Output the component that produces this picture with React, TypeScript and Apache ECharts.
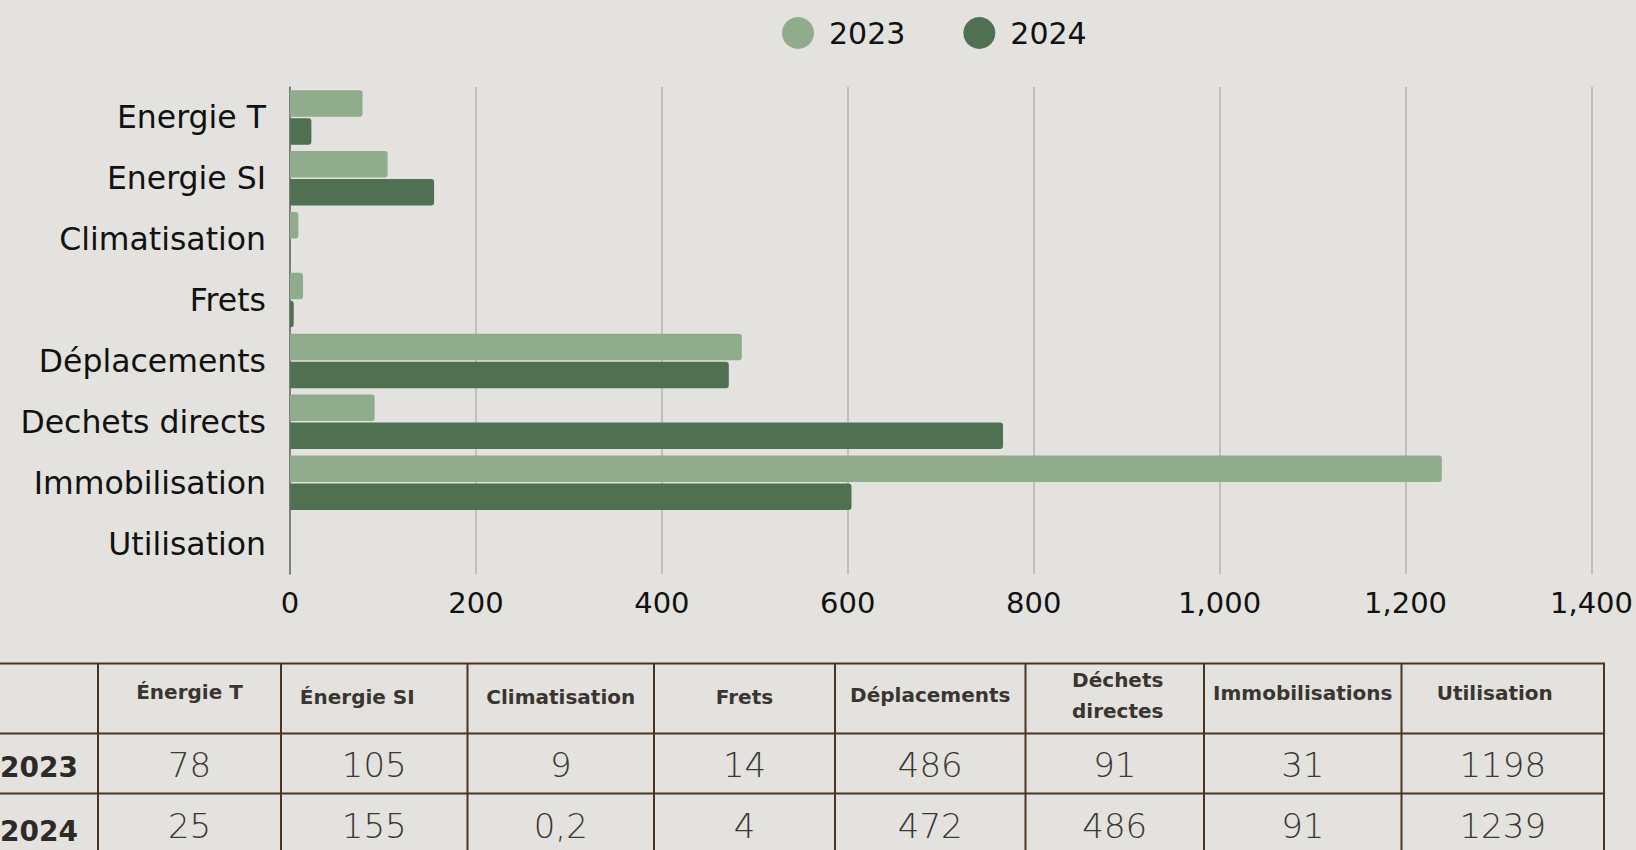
import React, { useEffect, useRef } from "react";
import * as echarts from "echarts";

const categories = [
  "Energie T",
  "Energie SI",
  "Climatisation",
  "Frets",
  "Déplacements",
  "Dechets directs",
  "Immobilisation",
  "Utilisation",
];
const seriesNames = ["2023", "2024"];
const values2023 = [78, 105, 9, 14, 486, 91, 1239, 0];
const values2024 = [23, 155, 0.2, 4, 472, 767, 604, 0];

const tableHeaders = [
  "Énergie T",
  "Énergie SI",
  "Climatisation",
  "Frets",
  "Déplacements",
  "Déchets\ndirectes",
  "Immobilisations",
  "Utilisation",
];
const tableRowLabels = ["2023", "2024"];
const tableRow2023 = ["78", "105", "9", "14", "486", "91", "31", "1198"];
const tableRow2024 = ["25", "155", "0,2", "4", "472", "486", "91", "1239"];

const BG = "#E3E2DE";
const C2023 = "#8FAC8C";
const C2024 = "#507052";
const FONT = "'DejaVu Sans', sans-serif";

export default function App() {
  const ref = useRef<HTMLDivElement>(null);

  useEffect(() => {
    document.body.style.margin = "0";
    document.body.style.background = BG;
    const chart = echarts.init(ref.current!, null, { renderer: "svg" });

    // table geometry
    const colX = [-60, 98, 281, 467.5, 654, 835, 1025.5, 1204, 1401.5, 1604];
    const rowY = [663.5, 733.5, 793.5, 856];
    const border = "#4A3520";
    const graphics: any[] = [];
    rowY.forEach((y) => {
      graphics.push({
        type: "line",
        shape: { x1: 0, y1: y, x2: colX[colX.length - 1] + 1, y2: y },
        style: { stroke: border, lineWidth: 2 },
      });
    });
    colX.slice(1).forEach((x) => {
      graphics.push({
        type: "line",
        shape: { x1: x, y1: rowY[0], x2: x, y2: rowY[rowY.length - 1] },
        style: { stroke: border, lineWidth: 2 },
      });
    });
    const headerY = [692, 697, 697, 697, 695, 695, 693, 693];
    const headerDx = [0, -17, 0, 0, 0, 3, 0, -8];
    tableHeaders.forEach((h, i) => {
      const cx = (colX[i + 1] + colX[i + 2]) / 2 + headerDx[i];
      graphics.push({
        type: "text",
        x: cx,
        y: headerY[i],
        style: {
          text: h,
          fill: "#3A3530",
          fontFamily: FONT,
          fontSize: 20,
          fontWeight: "bold",
          lineHeight: 31,
          align: "center",
          verticalAlign: "middle",
        },
      });
    });
    const rows = [tableRow2023, tableRow2024];
    const rowCenters = [765, 826];
    const labelCenters = [767, 831];
    rows.forEach((row, r) => {
      graphics.push({
        type: "text",
        x: 0,
        y: labelCenters[r],
        style: {
          text: tableRowLabels[r],
          fill: "#2E2A26",
          fontFamily: FONT,
          fontSize: 28,
          fontWeight: "bold",
          align: "left",
          verticalAlign: "middle",
        },
      });
      row.forEach((v, i) => {
        const cx = (colX[i + 1] + colX[i + 2]) / 2;
        graphics.push({
          type: "text",
          x: cx,
          y: rowCenters[r],
          style: {
            text: v,
            fill: "#3C3833",
            fontFamily: FONT,
            fontSize: 34,
            fontWeight: 200,
            align: "center",
            verticalAlign: "middle",
          },
        });
      });
    });

    chart.setOption({
      animation: false,
      backgroundColor: BG,
      textStyle: { fontFamily: FONT },
      legend: {
        data: seriesNames,
        left: 777,
        top: 12,
        icon: "circle",
        itemWidth: 32,
        itemHeight: 32,
        itemGap: 58,
        textStyle: {
          fontSize: 30,
          color: "#111111",
          fontFamily: FONT,
          padding: [0, 0, 0, 10],
        },
      },
      grid: { left: 290, right: 44, top: 87, height: 487 },
      xAxis: {
        type: "value",
        min: 0,
        max: 1400,
        interval: 200,
        axisLine: { show: false },
        axisTick: { show: false },
        splitLine: { lineStyle: { color: "#B4B3AF", width: 1.5 } },
        axisLabel: { fontSize: 29, color: "#111111", margin: 14, fontFamily: FONT },
      },
      yAxis: {
        type: "category",
        inverse: true,
        data: categories,
        axisLine: { show: true, lineStyle: { color: "#6A6A6A", width: 1.5 } },
        axisTick: { show: false },
        axisLabel: { fontSize: 31.5, color: "#111111", margin: 24, fontFamily: FONT },
      },
      series: [
        {
          name: seriesNames[0],
          type: "bar",
          data: values2023,
          barWidth: 26.5,
          barGap: "6%",
          itemStyle: { color: C2023, borderRadius: [0, 3, 3, 0] },
        },
        {
          name: seriesNames[1],
          type: "bar",
          data: values2024,
          barWidth: 26.5,
          barGap: "6%",
          itemStyle: { color: C2024, borderRadius: [0, 3, 3, 0] },
        },
      ],
      graphic: graphics,
    });

    return () => chart.dispose();
  }, []);

  return (
    <div
      ref={ref}
      style={{ position: "fixed", left: 0, top: 0, width: 1636, height: 850, background: BG }}
    />
  );
}
